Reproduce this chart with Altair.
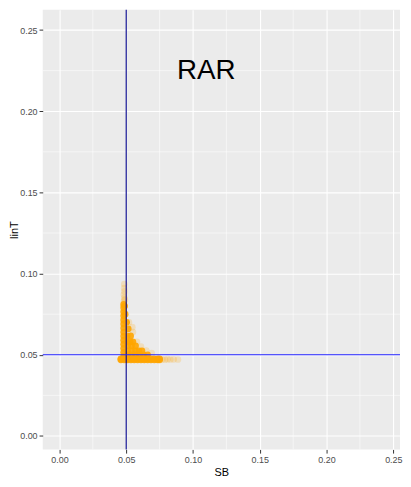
import altair as alt
import pandas as pd

# --- data ---
core_sb = [0.0481, 0.0481, 0.0481, 0.0481, 0.0481, 0.0481, 0.0481, 0.0481, 0.0481, 0.0481, 0.0481, 0.0481, 0.0481, 0.0481,
           0.0488, 0.0492, 0.0503, 0.0515, 0.0507, 0.0533, 0.0505, 0.0530, 0.0550,
           0.0510, 0.0540, 0.0570, 0.0510, 0.0540, 0.0570, 0.0595, 0.0618,
           0.0510, 0.0540, 0.0570, 0.0600, 0.0630, 0.0660,
           0.0460, 0.0485, 0.0510, 0.0535, 0.0560, 0.0585, 0.0610, 0.0635, 0.0660, 0.0685, 0.0710, 0.0735, 0.0750,
           0.0460, 0.0485, 0.0510, 0.0535, 0.0560, 0.0585, 0.0610, 0.0635, 0.0660, 0.0685, 0.0710, 0.0735, 0.0750]
core_linT = [0.0490, 0.0515, 0.0540, 0.0565, 0.0590, 0.0615, 0.0640, 0.0665, 0.0690, 0.0715, 0.0740, 0.0765, 0.0790, 0.0810,
             0.0800, 0.0750, 0.0700, 0.0660, 0.0616, 0.0616, 0.0580, 0.0580, 0.0580,
             0.0555, 0.0555, 0.0555, 0.0524, 0.0524, 0.0524, 0.0524, 0.0524,
             0.0500, 0.0500, 0.0500, 0.0500, 0.0500, 0.0500,
             0.0469, 0.0469, 0.0469, 0.0469, 0.0469, 0.0469, 0.0469, 0.0469, 0.0469, 0.0469, 0.0469, 0.0469, 0.0469,
             0.0475, 0.0475, 0.0475, 0.0475, 0.0475, 0.0475, 0.0475, 0.0475, 0.0475, 0.0475, 0.0475, 0.0475, 0.0475]

tail_sb = [0.0484, 0.0486, 0.0483, 0.0487, 0.0485, 0.0486, 0.0490,
           0.0520, 0.0580, 0.0550, 0.0545, 0.0610, 0.0650, 0.0690,
           0.0770, 0.0790, 0.0810, 0.0830, 0.0855, 0.0887]
tail_linT = [0.0830, 0.0850, 0.0870, 0.0890, 0.0910, 0.0935, 0.0840,
             0.0700, 0.0580, 0.0640, 0.0670, 0.0550, 0.0525, 0.0510,
             0.0472, 0.0470, 0.0473, 0.0471, 0.0472, 0.0471]

major_ticks = [0.0, 0.05, 0.10, 0.15, 0.20, 0.25]
minor_ticks = [0.025, 0.075, 0.125, 0.175, 0.225]
vline_sb = [0.05]
hline_linT = [0.05]
label_sb = [0.11]
label_linT = [0.225]
label_text = ["RAR"]

core = pd.DataFrame({"SB": core_sb, "linT": core_linT})
tail = pd.DataFrame({"SB": tail_sb, "linT": tail_linT})
minor = pd.DataFrame({"v": minor_ticks})
vdf = pd.DataFrame({"SB": vline_sb})
hdf = pd.DataFrame({"linT": hline_linT})
tdf = pd.DataFrame({"SB": label_sb, "linT": label_linT, "t": label_text})

xs = alt.Scale(domain=[-0.0125, 0.2550], nice=False, zero=False)
ys = alt.Scale(domain=[-0.0083, 0.2625], nice=False, zero=False)

xax = alt.Axis(values=major_ticks, format=".2f", title="SB", grid=True, titlePadding=3)
yax = alt.Axis(values=major_ticks, format=".2f", title="linT", grid=True, titlePadding=0)

minor_x = alt.Chart(minor).mark_rule(color="white", strokeWidth=0.55).encode(
    x=alt.X("v:Q", scale=xs, axis=xax))
minor_y = alt.Chart(minor).mark_rule(color="white", strokeWidth=0.55).encode(
    y=alt.Y("v:Q", scale=ys, axis=yax))

pts_tail = alt.Chart(tail).mark_circle(color="#FFA500", opacity=0.2, size=46).encode(
    x=alt.X("SB:Q", scale=xs, axis=xax), y=alt.Y("linT:Q", scale=ys, axis=yax))
pts_core = alt.Chart(core).mark_circle(color="#FFA500", opacity=0.9, size=46).encode(
    x=alt.X("SB:Q", scale=xs, axis=xax), y=alt.Y("linT:Q", scale=ys, axis=yax))

vline = alt.Chart(vdf).mark_rule(color="#00008B", strokeWidth=1.1).encode(
    x=alt.X("SB:Q", scale=xs, axis=xax))
hline = alt.Chart(hdf).mark_rule(color="#2222FF", strokeWidth=1.1).encode(
    y=alt.Y("linT:Q", scale=ys, axis=yax))

txt = alt.Chart(tdf).mark_text(fontSize=28, font="Liberation Sans", color="black",
                               align="center", baseline="middle").encode(
    x=alt.X("SB:Q", scale=xs, axis=xax), y=alt.Y("linT:Q", scale=ys, axis=yax), text="t:N")

chart = alt.layer(minor_x, minor_y, pts_tail, pts_core, vline, hline, txt).properties(
    width=360, height=443,
    autosize=alt.AutoSizeParams(type="none"),
    padding={"left": 35, "top": 0, "right": 3, "bottom": 28},
    background="white",
).configure_view(fill="#EBEBEB", stroke=None).configure_axis(
    gridColor="white", gridWidth=1.1, domain=False,
    tickColor="#333333", tickSize=3.7, tickWidth=1,
    labelColor="#4D4D4D", labelFontSize=9, labelFont="Liberation Sans", labelPadding=2,
    titleFont="Liberation Sans", titleFontSize=11, titleFontWeight="normal", titleColor="black",
)

chart.save("out.html", embed_options={"renderer": "svg", "actions": False})
